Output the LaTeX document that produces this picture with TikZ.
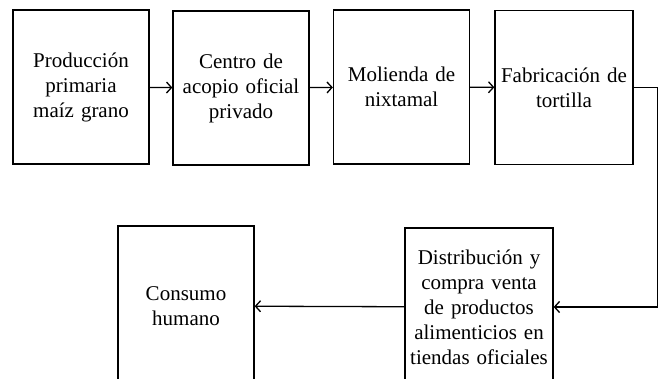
\documentclass[tikz,border=0pt]{standalone}
\usepackage{fontspec}
\setmainfont{Liberation Serif}
\usetikzlibrary{arrows.meta}

\begin{document}
\begin{tikzpicture}[x=1pt,y=-1pt,
    box/.style={draw,line width=1.3pt,minimum width=136pt,minimum height=154pt,
        text width=132pt,inner sep=2pt,align=center,
        font=\fontsize{21}{25}\selectfont},
    every edge/.style={draw,line width=1.3pt,-{Straight Barb[length=5pt,width=11pt]}}]
            \useasboundingbox (0,0) rectangle (659,379);
            \clip (0,0) rectangle (659,379);

            \node[box] (A) at (81,87) {Producción\\ primaria\\ maíz grano};
            \node[box] (B) at (241,88) {Centro de\\ acopio oficial\\ privado};
            \node[box] (C) at (401.5,87) {Molienda de\\ nixtamal};
            \node[box,minimum width=138pt] (D) at (564,87.5) {Fabricación de\\ tortilla};
            \node[box,minimum width=148pt,text width=144pt,minimum height=158pt] (E) at (479,307) {Distribución y\\ compra venta\\ de productos\\ alimenticios en\\ tiendas oficiales};
            \node[box,minimum height=160pt] (F) at (186,306) {Consumo\\ humano};
            \coordinate (T) at (657.5,0);

            \path (A) edge (B);
            \path (B) edge (C);
            \path (C) edge (D);
            \draw[line width=1.3pt,-{Straight Barb[length=5pt,width=11pt]}] (D.east) -| (T |- E.east) -- (E.east);
            \path (E) edge (F);

        \end{tikzpicture}
\end{document}
